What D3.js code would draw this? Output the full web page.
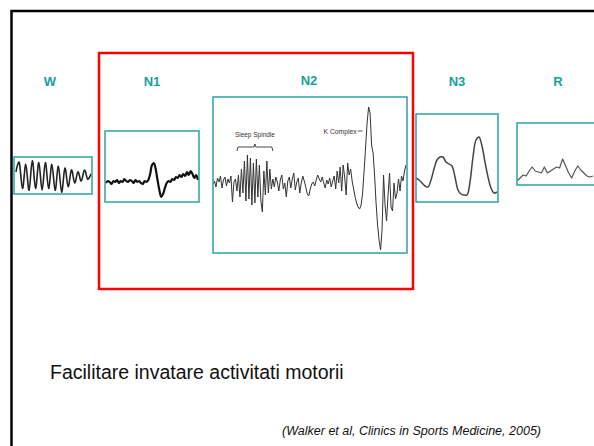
<!DOCTYPE html>
<html>
<head>
<meta charset="utf-8">
<script src="https://cdn.jsdelivr.net/npm/d3@7"></script>
<style>
  html, body { margin: 0; padding: 0; background: #fff; }
  svg { display: block; }
</style>
</head>
<body>
<div id="chart"></div>
<script>
// stage labels
var stages = ["W", "N1", "N2", "N3", "R"];

// eeg traces, one sample per step, amplitude in px-like units
var waveW = [2, 7, -7, 6, -8, 8, -7, 7, -8, 7, -7, 6, -8, 5, -9, 4, -6, 3, -4, 2, -3, 3, -2, 1];
var waveN1 = [19, 21, 20, 18, 21, 20, 22, 19, 21, 20, 23, 21, 20, 22, 21, 19, 22, 20, 21, 19, 18, 21, 20,
  22, 28, 37, 39, 33, 22, 12, 5, 8, 14, 19, 21, 20, 23, 22, 25, 24, 27, 25, 28, 26, 30, 27, 31, 28, 24, 27, 22];
var waveN2 = [1, 4, -2, 7, 3, 9, -3, 5, 8, -1, 6, 2, 9, -17, 3, 6,
  -6, 10, -12, 16, -8, 24, -16, 30, -14, 27, -20, 22, -18, 26, -12, 20, -16, -27, 14, -10, 24, -8, 16, -4,
  6, -2, 8, 3, -6, 5, 10, -4, 2, -12, 4, 8, -3, 6, 12, -5, 3, 7, -8, 2, 9, 4, -2, -9, -11, -4, 1, 3, -1, 5,
  10, 6, 3, 8, 2, -3, 5, 1, 7, -2, 4, 9, -4, 14, 2, 18, -6, 20, 8, -10, 22, 10, 16, 4, -4,
  -12, -18, -22, -24, -20, -8, 14, 38, 62, 78, 72, 40, 32, 10, -18, -40, -55, -65, -45, 10, -20, -36, -10, 12,
  -22, -26, 2, -14, -8, 6, -6, 9, 4, 14, 20];
var waveN3 = [24, 22, 19, 16, 15, 22, 33, 42, 45, 45, 40, 38, 36, 25, 12, 8, 7, 7, 20, 45, 62, 65, 56, 40, 25, 14, 9, 10];
var waveR = [4, 7, 10, 9, 14, 18, 14, 13, 12, 18, 12, 14, 16, 18, 17, 26, 19, 12, 7, 14, 19, 15, 12, 9, 8, 9];

// annotation spots in N2 (sample index)
var spindleRange = [16, 40];
var kComplexPeak = 104;

var title = "Facilitare invatare activitati motorii";
var source = "(Walker et al, Clinics in Sports Medicine, 2005)";

var width = 594, height = 446,
  teal = "#2aa3a3",
  labelColor = "#17a09b",
  font = "'Liberation Sans', Arial, sans-serif";

// panel frames: x0, x1 of trace, y domain of values
var panels = [
  { name: "W",  box: [14, 157, 92, 194],  data: waveW,  x: [16, 91],  dom: [-10, 10], curve: d3.curveCardinal, sw: 1.6, col: "#222", label: [50, 86] },
  { name: "N1", box: [105, 131, 199, 202], data: waveN1, x: [106, 198], dom: [0, 71], curve: d3.curveCatmullRom, sw: 2.2, col: "#111", label: [152, 86] },
  { name: "N2", box: [213, 97, 407, 253], data: waveN2, x: [213, 406], dom: [-68, 88], curve: d3.curveLinear, sw: 1, col: "#333", label: [309, 85] },
  { name: "N3", box: [416, 114, 498, 202], data: waveN3, x: [416, 497], dom: [0, 88], curve: d3.curveCatmullRom, sw: 1.5, col: "#444", label: [457, 86] },
  { name: "R",  box: [517, 123, 620, 185], data: waveR,  x: [517, 593], dom: [0, 62], curve: d3.curveLinear, sw: 1.2, col: "#555", label: [558, 86] }
];

var svg = d3.select("#chart").append("svg")
  .attr("width", width).attr("height", height);

svg.append("rect").attr("width", width).attr("height", height).attr("fill", "#fff");

// slide frame
svg.append("path")
  .attr("d", "M11.5," + height + "V11H" + width)
  .attr("fill", "none").attr("stroke", "#000").attr("stroke-width", 2.5);

// red group box
svg.append("rect")
  .attr("x", 99).attr("y", 53).attr("width", 314).attr("height", 236)
  .attr("fill", "none").attr("stroke", "#f00").attr("stroke-width", 2.5);

panels.forEach(function (p, i) {
  var b = p.box;
  var g = svg.append("g");

  var xScale = d3.scaleLinear().domain([0, p.data.length - 1]).range(p.x);
  var yScale = d3.scaleLinear().domain(p.dom).range([b[3], b[1]]);
  p.xs = xScale; p.ys = yScale;

  var line = d3.line()
    .x(function (d, j) { return xScale(j); })
    .y(function (d) { return yScale(d); })
    .curve(p.curve);

  g.append("path")
    .datum(p.data)
    .attr("d", line)
    .attr("fill", "none")
    .attr("stroke", p.col)
    .attr("stroke-width", p.sw)
    .attr("stroke-linejoin", "round");

  g.append("rect")
    .attr("x", b[0]).attr("y", b[1])
    .attr("width", b[2] - b[0]).attr("height", b[3] - b[1])
    .attr("fill", "none").attr("stroke", teal).attr("stroke-width", 1.5);

  svg.append("text")
    .attr("x", p.label[0]).attr("y", p.label[1])
    .attr("text-anchor", "middle")
    .attr("font-family", font).attr("font-weight", "bold")
    .attr("font-size", 13).attr("fill", labelColor)
    .text(stages[i]);
});

// N2 annotations
var n2 = panels[2];
var sx0 = n2.xs(spindleRange[0]), sx1 = n2.xs(spindleRange[1]), smid = (sx0 + sx1) / 2;
svg.append("path")
  .attr("d", "M" + sx0 + ",151L" + (sx0 + 1) + ",147H" + (smid - 1) + "L" + smid + ",144L" + (smid + 1) + ",147H" + (sx1 - 1) + "L" + sx1 + ",151")
  .attr("fill", "none").attr("stroke", "#333").attr("stroke-width", 0.9);
svg.append("text")
  .attr("x", smid).attr("y", 137)
  .attr("text-anchor", "middle")
  .attr("font-family", font).attr("font-size", 8).attr("fill", "#333")
  .attr("textLength", 40).attr("lengthAdjust", "spacingAndGlyphs")
  .text("Sleep Spindle");

var kx = n2.xs(kComplexPeak);
svg.append("text")
  .attr("x", kx - 12).attr("y", 133.5)
  .attr("text-anchor", "end")
  .attr("font-family", font).attr("font-size", 8).attr("fill", "#333")
  .attr("textLength", 33).attr("lengthAdjust", "spacingAndGlyphs")
  .text("K Complex");
svg.append("line")
  .attr("x1", kx - 11).attr("x2", kx - 6)
  .attr("y1", 131).attr("y2", 131)
  .attr("stroke", "#333").attr("stroke-width", 0.8);

// texts
svg.append("text")
  .attr("x", 50).attr("y", 379)
  .attr("font-family", font).attr("font-size", 19.5).attr("fill", "#111")
  .text(title);

svg.append("text")
  .attr("x", 541).attr("y", 435)
  .attr("text-anchor", "end")
  .attr("font-family", font).attr("font-style", "italic")
  .attr("font-size", 12.5).attr("fill", "#111")
  .text(source);
</script>
</body>
</html>
